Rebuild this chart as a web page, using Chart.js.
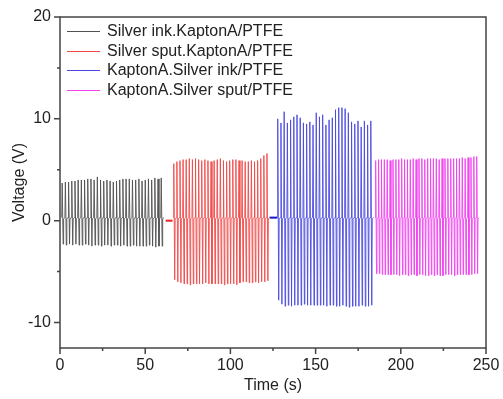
<!DOCTYPE html>
<html>
<head>
<meta charset="utf-8">
<script src="https://cdn.jsdelivr.net/npm/chart.js@4.4.0/dist/chart.umd.min.js"></script>
<style>
  html, body { margin: 0; padding: 0; background: #fff; }
  #wrap { width: 503px; height: 399px; position: relative; }
</style>
</head>
<body>
<div id="wrap"><canvas id="voltChart"></canvas></div>
<script>
// Series labels and colours
const seriesNames = ['Silver ink.KaptonA/PTFE', 'Silver sput.KaptonA/PTFE', 'KaptonA.Silver ink/PTFE', 'KaptonA.Silver sput/PTFE'];
const seriesColors = ['#505050', '#f04848', '#4848e0', '#f040f0'];
const idleColors = ['#303030', '#e82020', '#1818c8', '#e020e0'];

// Time windows of each pressing run (s): start, end
const runStart = [1, 66.5, 127.5, 185];
const runEnd = [61, 123, 184, 246];

// Flat idle segments between runs: [t0, t1, level]
const idleRed = [62, 66, 0];
const idleBlue = [123, 127.5, 0.3];

// Peak (positive) voltages per cycle
const peaksBlack = [3.7, 3.8, 3.8, 3.9, 3.9, 4.0, 4.0, 4.0, 4.1, 4.1, 4.0, 4.3, 4.0, 3.9, 4.0, 3.9, 3.8, 3.9, 4.0, 4.1, 4.1, 4.1, 4.0, 4.0, 4.1, 3.9, 4.0, 4.1, 4.0, 4.2, 4.1, 4.2];
const peaksRed = [5.6, 5.8, 5.9, 6.0, 6.0, 6.1, 6.0, 6.1, 6.0, 5.9, 6.0, 5.9, 5.8, 5.9, 6.0, 6.1, 5.9, 5.8, 5.9, 6.0, 6.0, 5.9, 5.9, 5.8, 5.8, 5.9, 5.8, 5.9, 6.1, 6.4, 6.6];
const peaksBlue = [10.0, 9.6, 10.7, 9.6, 9.9, 10.2, 10.4, 10.1, 9.6, 9.5, 9.7, 9.4, 10.6, 10.2, 10.4, 9.4, 9.9, 10.1, 10.9, 11.1, 11.1, 11.0, 10.6, 9.7, 9.5, 9.8, 9.2, 9.8, 9.4, 9.8];
const peaksPink = [5.9, 6.0, 6.0, 6.0, 6.0, 5.9, 6.0, 6.0, 6.0, 6.1, 6.0, 6.0, 6.0, 6.1, 6.0, 6.1, 6.1, 6.0, 6.1, 6.1, 6.1, 6.1, 6.0, 6.1, 6.1, 6.1, 6.1, 6.1, 6.1, 6.1, 6.2, 6.1, 6.2, 6.2, 6.3, 6.3];

// Valley (negative) voltages per cycle
const valleysBlack = [-2.3, -2.4, -2.3, -2.4, -2.3, -2.4, -2.4, -2.3, -2.4, -2.5, -2.4, -2.4, -2.5, -2.4, -2.4, -2.5, -2.4, -2.4, -2.5, -2.4, -2.5, -2.5, -2.4, -2.5, -2.5, -2.5, -2.5, -2.4, -2.5, -2.6, -2.5, -2.5];
const valleysRed = [-5.8, -6.0, -6.1, -6.2, -6.2, -6.3, -6.2, -6.2, -6.2, -6.2, -6.1, -6.2, -6.2, -6.2, -6.2, -6.2, -6.3, -6.2, -6.2, -6.2, -6.3, -6.1, -6.0, -6.0, -6.1, -6.1, -6.0, -6.1, -6.0, -6.0, -5.9];
const valleysBlue = [-7.8, -8.2, -8.4, -8.3, -8.4, -8.3, -8.3, -8.3, -8.2, -8.3, -8.3, -8.3, -8.3, -8.3, -8.3, -8.4, -8.3, -8.3, -8.4, -8.4, -8.3, -8.4, -8.5, -8.4, -8.4, -8.4, -8.3, -8.4, -8.4, -8.3];
const valleysPink = [-5.2, -5.2, -5.3, -5.3, -5.3, -5.3, -5.3, -5.3, -5.4, -5.3, -5.3, -5.4, -5.3, -5.3, -5.4, -5.3, -5.3, -5.4, -5.4, -5.3, -5.4, -5.3, -5.4, -5.4, -5.3, -5.3, -5.3, -5.4, -5.3, -5.3, -5.3, -5.3, -5.3, -5.3, -5.2, -5.2];

// Axis ticks
const xTicks = [0, 25, 50, 75, 100, 125, 150, 175, 200, 225, 250];
const xLabelTicks = [0, 50, 100, 150, 200, 250];
const yTicks = [-10, -5, 0, 5, 10, 15, 20];
const yLabelTicks = [-10, 0, 10, 20];

// Build a spike waveform: each cycle rises to its peak, drops to its valley, returns to baseline
function buildWave(start, end, peaks, valleys) {
  const pts = [];
  const n = peaks.length;
  const p = (end - start) / n;
  for (let i = 0; i < n; i++) {
    const t = start + i * p;
    pts.push({x: t, y: 0.3});
    pts.push({x: t + 0.15 * p, y: peaks[i]});
    pts.push({x: t + 0.45 * p, y: valleys[i]});
    pts.push({x: t + 0.6 * p, y: 0.2});
  }
  pts.push({x: end, y: 0.3});
  return pts;
}

const waves = [
  buildWave(runStart[0], runEnd[0], peaksBlack, valleysBlack),
  buildWave(runStart[1], runEnd[1], peaksRed, valleysRed),
  buildWave(runStart[2], runEnd[2], peaksBlue, valleysBlue),
  buildWave(runStart[3], runEnd[3], peaksPink, valleysPink)
];

const FONT = '"Liberation Sans", Arial, sans-serif';

// frame, minor/major ticks and the in-plot legend
const framePlugin = {
  id: 'frame',
  afterDraw(chart) {
    const {ctx, chartArea: a, scales} = chart;
    ctx.save();
    ctx.strokeStyle = '#444';
    ctx.lineWidth = 1.5;
    ctx.strokeRect(a.left, a.top, a.right - a.left, a.bottom - a.top);
    ctx.beginPath();
    xTicks.forEach(v => {
      const px = scales.x.getPixelForValue(v);
      const len = xLabelTicks.includes(v) ? 6 : 3;
      ctx.moveTo(px, a.bottom);
      ctx.lineTo(px, a.bottom + len);
    });
    yTicks.forEach(v => {
      const py = scales.y.getPixelForValue(v);
      const len = yLabelTicks.includes(v) ? 6 : 3;
      ctx.moveTo(a.left, py);
      ctx.lineTo(a.left - len, py);
    });
    ctx.stroke();

    ctx.font = '16px ' + FONT;
    ctx.textBaseline = 'middle';
    ctx.fillStyle = '#222';
    seriesNames.forEach((name, i) => {
      const y = Math.round(31 + i * 19.5) + 0.5;
      ctx.strokeStyle = seriesColors[i];
      ctx.lineWidth = 1;
      ctx.beginPath();
      ctx.moveTo(67, y);
      ctx.lineTo(100, y);
      ctx.stroke();
      ctx.fillText(name, 107, y);
    });
    ctx.restore();
  }
};

const ctx = document.getElementById('voltChart').getContext('2d');
const voltChart = new Chart(ctx, {
  type: 'line',
  data: {
    datasets: waves.map((w, i) => ({
      label: seriesNames[i],
      data: w,
      borderColor: seriesColors[i],
      borderWidth: 0.9,
      pointRadius: 0,
      fill: false,
      tension: 0
    })).concat([
      {
        label: 'idle red',
        data: [{x: idleRed[0], y: idleRed[2]}, {x: idleRed[1], y: idleRed[2]}],
        borderColor: idleColors[1],
        borderWidth: 2,
        pointRadius: 0
      },
      {
        label: 'idle blue',
        data: [{x: idleBlue[0], y: idleBlue[2]}, {x: idleBlue[1], y: idleBlue[2]}],
        borderColor: idleColors[2],
        borderWidth: 2,
        pointRadius: 0
      }
    ])
  },
  options: {
    responsive: true,
    maintainAspectRatio: false,
    animation: false,
    layout: { autoPadding: false, padding: { left: 0, right: 17, top: 17, bottom: 0 } },
    plugins: { legend: { display: false }, tooltip: { enabled: false } },
    scales: {
      x: {
        type: 'linear',
        min: 0,
        max: 250,
        afterBuildTicks: s => { s.ticks = xLabelTicks.map(v => ({value: v})); },
        afterFit: s => { s.height = 51; s.paddingLeft = 0; s.paddingRight = 0; },
        grid: { display: false, drawTicks: false },
        border: { display: false },
        ticks: { padding: 8, color: '#222', font: { family: FONT, size: 16 } },
        title: { display: true, text: 'Time (s)', color: '#222', padding: { top: 4 }, font: { family: FONT, size: 16 } }
      },
      y: {
        min: -12.5,
        max: 20,
        afterBuildTicks: s => { s.ticks = yLabelTicks.map(v => ({value: v})); },
        afterFit: s => { s.width = 60; s.paddingTop = 0; s.paddingBottom = 0; },
        grid: { display: false, drawTicks: false },
        border: { display: false },
        ticks: { padding: 9, color: '#222', font: { family: FONT, size: 16 } },
        title: { display: true, text: 'Voltage (V)', color: '#222', padding: { top: 10, bottom: 0 }, font: { family: FONT, size: 16 } }
      }
    }
  },
  plugins: [framePlugin]
});
</script>
</body>
</html>
